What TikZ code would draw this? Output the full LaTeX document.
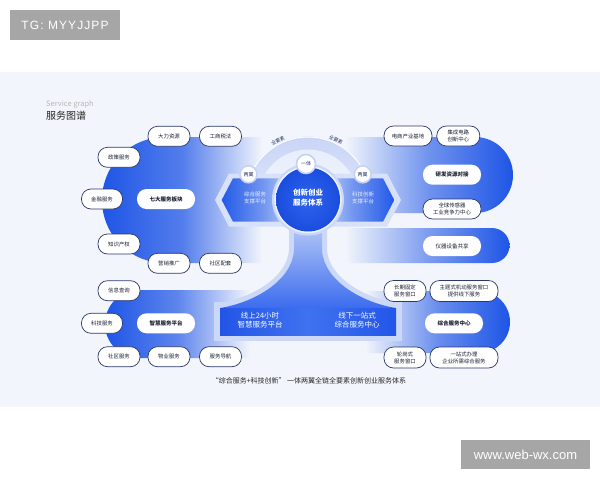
\documentclass[tikz,border=0pt]{standalone}
\usepackage{fontspec}
\setmainfont{Noto Sans CJK SC}
\newfontfamily\tgfont[LetterSpace=9]{Liberation Sans}
\newfontfamily\webfont{Liberation Sans}
\definecolor{bblue}{HTML}{1E55E6}
\definecolor{panel}{HTML}{F2F5FB}
\definecolor{pillborder}{HTML}{2B3868}
\definecolor{pilltext}{HTML}{1C2033}
\definecolor{halo}{HTML}{CCD8F7}
\definecolor{navy}{HTML}{26336B}
\definecolor{wmgray}{HTML}{A6A6A6}
\definecolor{ringc}{HTML}{C5D2F5}
\definecolor{ringtop}{HTML}{C9D5F7}
\definecolor{innertop}{HTML}{E8EEFC}
\definecolor{innerbot}{HTML}{F4F7FE}
\definecolor{hexhalo}{HTML}{D7E1F9}
\definecolor{hexdark}{HTML}{2259E8}
\definecolor{hexlight}{HTML}{DCE5FB}
\definecolor{hexmid}{HTML}{7396EF}
\definecolor{trunktop}{HTML}{B9CBF6}
\definecolor{trunkbot}{HTML}{3C6CEF}
\definecolor{baseleft}{HTML}{2255E6}
\definecolor{baseright}{HTML}{2356E8}
\definecolor{basemid}{HTML}{3F72EF}
\definecolor{corewhite}{HTML}{EEF3FE}
\definecolor{coreinner}{HTML}{2E64EE}
\definecolor{coreouter}{HTML}{1A4DDD}
\tikzset{
  pill/.style={draw=pillborder, line width=0.7pt, fill=white, rounded corners=9.5pt,
    minimum height=20pt, inner sep=0pt, align=center, text=pilltext,
    font=\fontsize{5.4}{7}\selectfont},
  pilltwo/.style={pill, minimum height=21pt},
  keypill/.style={fill=white, rounded corners=9.5pt, minimum height=20pt, minimum width=58pt,
    inner sep=0pt, align=center, text=pilltext, font=\bfseries\fontsize{5.5}{7}\selectfont},
  smallc/.style={circle, fill=white, draw=ringc, line width=1.6pt, inner sep=0pt,
    text=navy, font=\fontsize{5}{5}\selectfont},
  hextext/.style={text=white, text opacity=0.85, align=center, font=\fontsize{5.5}{6.7}\selectfont},
  basetext/.style={text=white, align=center, font=\fontsize{7.5}{9.3}\selectfont},
  arclabel/.style={text=navy, inner sep=0pt, font=\fontsize{4.8}{4.8}\selectfont},
}
\begin{document}
\begin{tikzpicture}[x=1pt,y=-1pt]
\useasboundingbox (0,0) rectangle (600,480);
\fill[white] (0,0) rectangle (600,480);
\fill[panel] (0,72) rectangle (600,407);

% watermarks
\node[fill=wmgray, minimum width=110pt, minimum height=30pt, inner sep=0pt, text=white,
  font=\tgfont\fontsize{12}{12}\selectfont] (tg) at (65,25) {TG: MYYJJPP};
\node[fill=wmgray, minimum width=129pt, minimum height=29.5pt, inner sep=0pt, text=white,
  font=\webfont\fontsize{13}{13}\selectfont] (web) at (525.5,454.7) {www.web-wx.com};

% title
\node[anchor=west, inner sep=0pt, text=black!28, font=\fontsize{7.5}{7.5}\selectfont] (sg) at (46,104) {Service graph};
\node[anchor=west, inner sep=0pt, text=black!85, font=\fontsize{10}{10}\selectfont] (title) at (46,115.5) {服务图谱};

% blobs
\shade[left color=bblue, right color=panel, middle color=bblue!75!panel]
  (262,137) -- (165,137) .. controls (130.2,137) and (102,165.2) .. (102,200)
  .. controls (102,234.8) and (130.2,263) .. (165,263) -- (262,263) -- cycle;
\shade[left color=panel, right color=bblue, middle color=bblue!62!panel]
  (345,137) -- (475,137) .. controls (496,137) and (513,154) .. (513,175)
  .. controls (513,196) and (496,213) .. (475,213) -- (345,213) -- cycle;
\shade[left color=panel, right color=bblue, middle color=bblue!55!panel]
  (345,228) -- (492,228) .. controls (501.7,228) and (509.5,235.8) .. (509.5,245.5)
  .. controls (509.5,255.2) and (501.7,263) .. (492,263) -- (345,263) -- cycle;
\shade[left color=bblue, right color=panel, middle color=bblue!70!panel]
  (250,290) -- (139,290) .. controls (120.2,290) and (105,305.2) .. (105,324)
  .. controls (105,342.8) and (120.2,358) .. (139,358) -- (250,358) -- cycle;
\shade[left color=panel, right color=bblue, middle color=bblue!65!panel]
  (365,291) -- (479,291) .. controls (496.1,291) and (510,304.9) .. (510,322)
  .. controls (510,339.1) and (496.1,353) .. (479,353) -- (365,353) -- cycle;

% upper ring
\begin{scope}
  \clip (230,120) rectangle (390,199.5);
  \shade[top color=ringtop, bottom color=panel] (308,199.5) circle[radius=63pt];
  \draw[white, line width=1pt] (308,199.5) circle[radius=62.5pt];
  \shade[top color=innertop, bottom color=innerbot] (308,199.5) circle[radius=50pt];
\end{scope}
\node[arclabel, rotate=27] (lab1) at (278,140.7) {全要素};
\node[arclabel, rotate=-25] (lab2) at (336,139.7) {全要素};

% hexagon halos and hexagons
\fill[hexhalo] (215,200) -- (229,173.5) -- (305,173.5) -- (305,226.5) -- (229,226.5) -- cycle;
\fill[hexhalo] (401,200) -- (387,173.5) -- (311,173.5) -- (311,226.5) -- (387,226.5) -- cycle;
\shade[left color=hexdark, right color=hexlight, middle color=hexmid]
  (221.7,200) -- (233,178.3) -- (305,178.3) -- (305,221.7) -- (233,221.7) -- cycle;
\shade[left color=hexlight, right color=hexdark, middle color=hexmid]
  (394.3,200) -- (383,178.3) -- (311,178.3) -- (311,221.7) -- (383,221.7) -- cycle;

% base halo, trunk, base
\fill[halo] (214,302) rectangle (402,341);
\path[draw=halo, line width=10pt, line join=round]
  (294,222) -- (294,250) .. controls (292,282) and (252,303) .. (220,308) -- (396,308)
  .. controls (364,303) and (324,282) .. (322,250) -- (322,222) -- cycle;
\shade[top color=trunktop, bottom color=trunkbot]
  (294,222) -- (294,250) .. controls (292,282) and (252,303) .. (220,308) -- (396,308)
  .. controls (364,303) and (324,282) .. (322,250) -- (322,222) -- cycle;
\shade[left color=baseleft, right color=baseright, middle color=basemid]
  (220,308) rectangle (396,335);
\node[basetext] (online) at (260,320.3) {线上24小时\\智慧服务平台};
\node[basetext] (offline) at (357,320.3) {线下一站式\\综合服务中心};

% hexagon texts
\node[hextext] (leftwing) at (255,197.7) {综合服务\\支撑平台};
\node[hextext] (rightwing) at (363,197.7) {科技创新\\支撑平台};

% core circle
\fill[halo] (308,199.5) circle[radius=36pt];
\fill[corewhite] (308,199.5) circle[radius=33.6pt];
\node[circle, minimum size=64pt, inner sep=0pt, inner color=coreinner, outer color=coreouter] (core) at (308,199.5) {};
\node[text=white, align=center, font=\bfseries\fontsize{7.5}{10}\selectfont] (coretext) at (308,197.7) {创新创业\\服务体系};

\node[smallc, minimum size=19pt] (yiti) at (306,164) {一体};
\node[smallc, minimum size=17pt] (ly1) at (248.5,174.3) {两翼};
\node[smallc, minimum size=17pt] (ly2) at (362.7,174.3) {两翼};

% left-top cluster
\node[pill, minimum width=42pt] (dlzy) at (169,136.3) {大力资源};
\node[pill, minimum width=42pt] (gssf) at (220.5,136.3) {工商税法};
\node[pill, minimum width=42pt] (zcfw) at (119,157.3) {政策服务};
\node[pill, minimum width=41pt] (jrfw) at (102,199) {金融服务};
\node[keypill] (qdfw) at (166,199) {七大服务板块};
\node[pill, minimum width=42pt] (zscq) at (119,244) {知识产权};
\node[pill, minimum width=42pt] (yxtg) at (169,263.3) {营销推广};
\node[pill, minimum width=42pt] (sqpt) at (220.5,263.3) {社区配套};

% left-bottom cluster
\node[pill, minimum width=42pt] (xxcx) at (119,290.7) {信息查询};
\node[pill, minimum width=41pt] (kjfw) at (102,323.3) {科技服务};
\node[keypill] (zhfw) at (166,323.3) {智慧服务平台};
\node[pill, minimum width=42pt] (sqfw) at (119,356.7) {社区服务};
\node[pill, minimum width=42pt] (wyfw) at (169,356.7) {物业服务};
\node[pill, minimum width=42pt] (fwdh) at (220.5,356.7) {服务导航};

% right-top cluster
\node[pill, minimum width=48pt] (dscy) at (408,136) {电商产业基地};
\node[pill, minimum width=43pt] (jcdl) at (458.3,136) {集成电路\\创新中心};
\node[keypill] (yfzy) at (452,174.7) {研发资源对接};
\node[pill, minimum width=58pt] (qqcg) at (452,209) {全球传感器\\工业竞争力中心};
\node[keypill, font=\fontsize{5.5}{7}\selectfont] (yqsb) at (452,246) {仪器设备共享};

% right-bottom cluster
\node[pilltwo, minimum width=42pt] (cqgd) at (405,291) {长期固定\\服务窗口};
\node[pilltwo, minimum width=68pt] (ztsj) at (464,291) {主题式机动服务窗口\\提供线下服务};
\node[keypill] (zhzx) at (454,323.3) {综合服务中心};
\node[pilltwo, minimum width=42pt] (lgsf) at (405,357.5) {轮岗式\\服务窗口};
\node[pilltwo, minimum width=68pt] (yzsb) at (464,357.5) {一站式办理\\企业所需综合服务};

% caption
\node[text=black!85, font=\fontsize{7}{7}\selectfont] (caption) at (309,381)
  {“综合服务+科技创新” 一体两翼全链全要素创新创业服务体系};
\end{tikzpicture}
\end{document}
